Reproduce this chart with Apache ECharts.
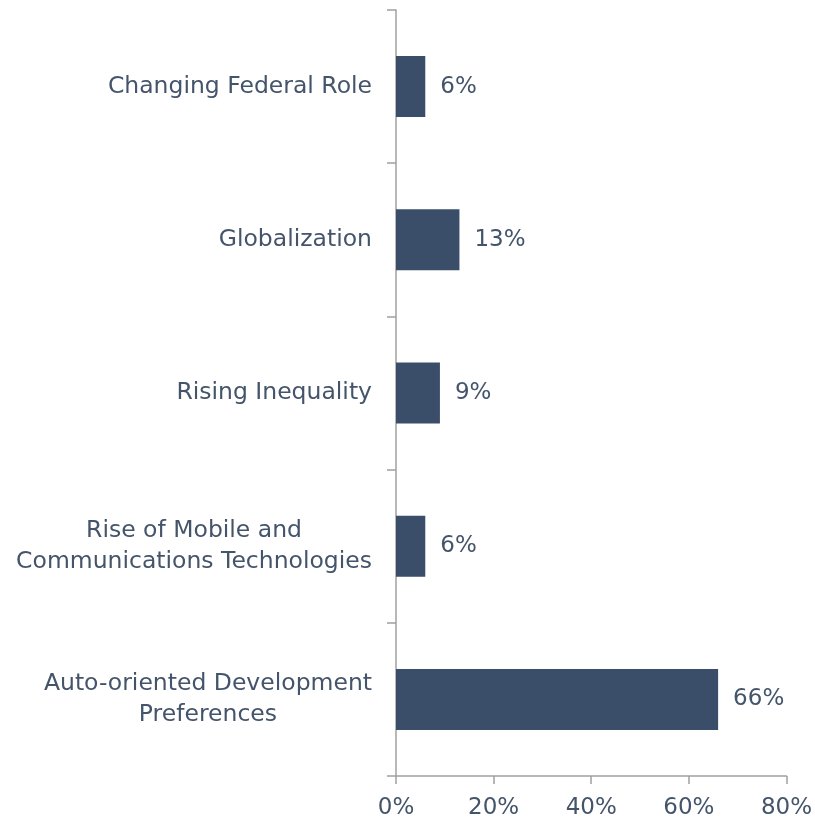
<!DOCTYPE html>
<html>
<head>
<meta charset="utf-8">
<script src="https://cdn.jsdelivr.net/npm/echarts@6/dist/echarts.min.js"></script>
<style>
  html, body { margin: 0; padding: 0; background: #fff; }
  #chart { width: 815px; height: 823px; }
</style>
</head>
<body>
<div id="chart"></div>
<script>
var categories = [
  'Changing Federal Role',
  'Globalization',
  'Rising Inequality',
  'Rise of Mobile and\nCommunications Technologies',
  'Auto-oriented Development\nPreferences'
];
var shares = [6, 13, 9, 6, 66];
var xTicks = [0, 20, 40, 60, 80];

var textColor = '#44546a';
var font = 'DejaVu Sans';
var chart = echarts.init(document.getElementById('chart'));
chart.setOption({
  animation: false,
  grid: { left: 396, right: 28, top: 10, bottom: 47 },
  xAxis: {
    type: 'value',
    min: xTicks[0],
    max: xTicks[xTicks.length - 1],
    interval: 20,
    splitLine: { show: false },
    axisLine: { show: true, lineStyle: { color: '#a0a0a0', width: 1.5 } },
    axisTick: { show: true, length: 8, lineStyle: { color: '#a0a0a0', width: 1.5 } },
    axisLabel: {
      formatter: '{value}%',
      color: textColor,
      fontFamily: font,
      fontSize: 23,
      margin: 21
    }
  },
  yAxis: {
    type: 'category',
    data: categories,
    inverse: true,
    axisLine: { show: true, lineStyle: { color: '#a0a0a0', width: 1.5 } },
    axisTick: { show: true, length: 9, lineStyle: { color: '#a0a0a0', width: 1.5 } },
    axisLabel: {
      color: textColor,
      fontFamily: font,
      fontSize: 23.5,
      lineHeight: 31,
      margin: 24,
      formatter: function (v) {
        return v.split('\n').map(function (s) { return '{c|' + s + '}'; }).join('\n');
      },
      rich: {
        c: {
          align: 'center',
          color: textColor,
          fontFamily: font,
          fontSize: 23.5,
          lineHeight: 31
        }
      }
    }
  },
  series: [{
    type: 'bar',
    data: shares,
    barWidth: 61,
    itemStyle: { color: '#3a4e6a' },
    label: {
      show: true,
      position: 'right',
      distance: 15,
      formatter: '{c}%',
      color: textColor,
      fontFamily: font,
      fontSize: 23
    }
  }]
});
</script>
</body>
</html>
